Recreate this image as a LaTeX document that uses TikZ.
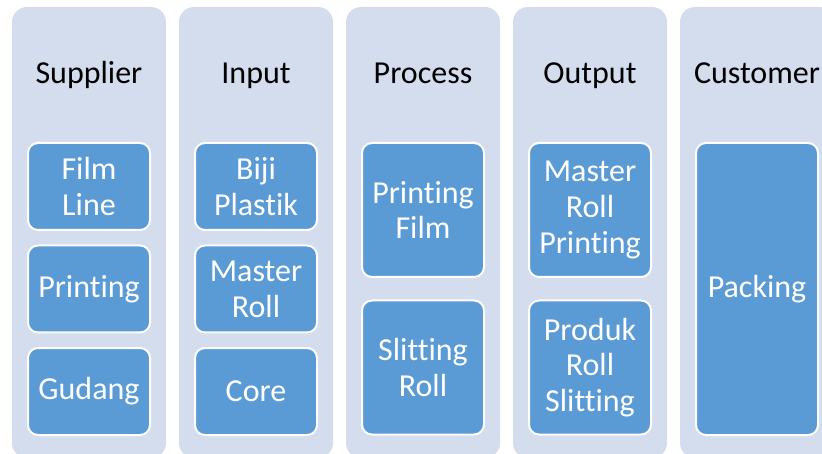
\documentclass[tikz,border=0pt]{standalone}
\usepackage{fontspec}
\setmainfont{Carlito}[Ligatures={NoCommon}]
\definecolor{lane}{HTML}{D3DDEE}
\definecolor{cell}{HTML}{5B9BD5}
\tikzset{
  lanebox/.style={fill=lane, draw=none, rounded corners=15pt},
  lanetitle/.style={anchor=base, text=black, font=\fontsize{32}{36}\selectfont},
  cellbox/.style={fill=cell, draw=white, line width=2pt, rounded corners=10pt,
    minimum width=122pt, text width=120pt, align=center, text=white, inner sep=0pt,
    font=\fontsize{32}{35.7}\selectfont},
  small/.style={cellbox, minimum height=87pt},
  mid/.style={cellbox, minimum height=134pt},
  tall/.style={cellbox, minimum height=292pt}
}
\begin{document}
\begin{tikzpicture}[x=1pt, y=-1pt]
  \useasboundingbox (0,0) rectangle (822,454);
  \clip (0,0) rectangle (822,454);
  % background lanes
  \foreach \k in {0,...,4} {
    \fill[lanebox] ({12+167*\k},7) rectangle ({166+167*\k},458);
  }
  % lane titles
  \node[lanetitle] (sup)  at (89,83.5)  {Supplier};
  \node[lanetitle] (inp)  at (256,83.5) {Input};
  \node[lanetitle] (proc) at (423,83.5) {Process};
  \node[lanetitle] (outp) at (590,83.5) {Output};
  \node[lanetitle] (cust) at (757,83.5) {Customer};
  % Supplier
  \node[small] (film)  at (89,186.5) {Film\\Line};
  \node[small] (print) at (89,289)   {Printing};
  \node[small] (gud)   at (89,391.5) {Gudang};
  % Input
  \node[small] (biji)   at (256,186.5) {Biji\\Plastik};
  \node[small] (master) at (256,289)   {Master\\Roll};
  \node[small] (core)   at (256,391.5) {Core};
  % Process
  \node[mid] (pfilm) at (423,210)   {Printing\\Film};
  \node[mid] (sroll) at (423,367.5) {Slitting\\Roll};
  % Output
  \node[mid] (mrp) at (590,210)   {Master\\Roll\\Printing};
  \node[mid] (prs) at (590,367.5) {Produk\\Roll\\Slitting};
  % Customer
  \node[tall] (pack) at (757,289) {Packing};
\end{tikzpicture}
\end{document}
